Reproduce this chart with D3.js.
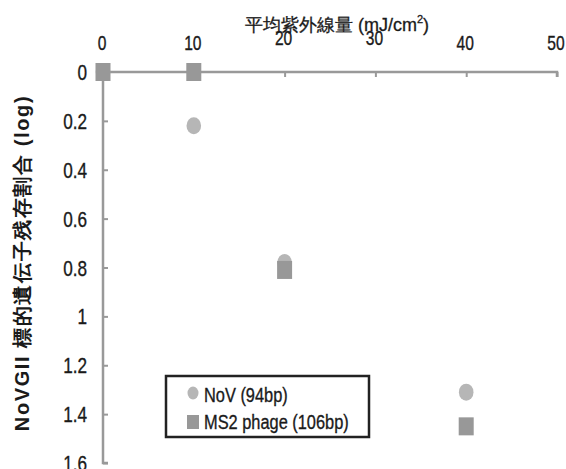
<!DOCTYPE html>
<html><head><meta charset="utf-8">
<script src="https://cdn.jsdelivr.net/npm/d3@7"></script>
<style>
body{margin:0;background:#fff;}
text{font-family:"Liberation Sans",Arial,sans-serif;fill:#1a1a1a;}
</style></head><body>
<svg id="c" width="566" height="469"></svg>
<script>
const xTicks = [0, 10, 20, 30, 40, 50];
const yTicks = [0, 0.2, 0.4, 0.6, 0.8, 1, 1.2, 1.4, 1.6];
const novDose = [0, 10, 20, 40];
const novVal = [0, 0.22, 0.78, 1.31];
const ms2Dose = [0, 10, 20, 40];
const ms2Val = [0, 0, 0.81, 1.45];
const seriesNames = ["NoV (94bp)", "MS2 phage (106bp)"];
const xTitle = "平均紫外線量 (mJ/cm";
const yTitle = "NoVGII 標的遺伝子残存割合 (log)";

const svg = d3.select("#c");
const x = d3.scaleLinear().domain([0, 50]).range([103, 557]);
const y = d3.scaleLinear().domain([0, 1.6]).range([72, 463]);
const axisCol = "#999";
const SX = 0.78;

function ctext(px, py, str, size, anchor) {
  return svg.append("g").attr("transform", `translate(${px},${py}) scale(${SX},1)`)
    .append("text").attr("text-anchor", anchor || "start").attr("font-size", size)
    .attr("stroke", "#1a1a1a").attr("stroke-width", 0.35).text(str);
}

// y axis
const gy = svg.append("g").attr("transform", `translate(${x(0)},0)`)
  .call(d3.axisRight(y).tickValues(yTicks).tickSize(5).tickFormat(""));
gy.select(".domain").attr("stroke", axisCol).attr("stroke-width", 2.5).attr("d", `M5,${y(0)}H0V${y(1.6)}H5`);
gy.selectAll(".tick line").attr("stroke", axisCol).attr("stroke-width", 2);
yTicks.forEach(d => ctext(87, y(d) + 8, d3.format("")(d), 22, "end"));

// x axis
const gx = svg.append("g").attr("transform", `translate(0,${y(0)})`)
  .call(d3.axisBottom(x).tickValues(xTicks).tickSize(5).tickFormat(""));
gx.select(".domain").attr("stroke", axisCol).attr("stroke-width", 2.5).attr("d", `M${x(0)},0H${x(50)}V5`);
gx.selectAll(".tick line").attr("stroke", axisCol).attr("stroke-width", 2);
xTicks.forEach(d => ctext(x(d) - 1, (d === 20 || d === 30) ? 45 : 50, String(d), 20, "middle"));

// titles
const t = svg.append("text").attr("x", 337).attr("y", 31).attr("text-anchor", "middle").attr("font-size", 18)
  .attr("stroke", "#1a1a1a").attr("stroke-width", 0.3);
t.append("tspan").text(xTitle);
t.append("tspan").attr("font-size", 11).attr("dy", -8).text("2");
t.append("tspan").attr("dy", 8).text(")");

svg.append("text").attr("transform", "translate(29,263) rotate(-90)")
  .attr("text-anchor", "middle").attr("font-size", 20).attr("font-weight", "bold")
  .attr("letter-spacing", 1.6)
  .attr("font-family", "'Noto Sans CJK JP',sans-serif").text(yTitle);

// NoV circles
svg.append("g").selectAll("ellipse").data(novDose).join("ellipse")
  .attr("cx", d => x(d)).attr("cy", (d, i) => y(novVal[i])).attr("rx", 7.3).attr("ry", 8.5)
  .attr("fill", "#b6b6b6");
// MS2 squares
svg.append("g").selectAll("rect").data(ms2Dose).join("rect")
  .attr("x", d => x(d) - 7.5).attr("y", (d, i) => y(ms2Val[i]) - 9).attr("width", 15).attr("height", 18)
  .attr("fill", "#989898");

// legend
svg.append("rect").attr("x", 166).attr("y", 376).attr("width", 203).attr("height", 61)
  .attr("fill", "none").attr("stroke", "#222").attr("stroke-width", 2.5);
svg.append("ellipse").attr("cx", 193).attr("cy", 393).attr("rx", 5.5).attr("ry", 6.5).attr("fill", "#b6b6b6");
svg.append("rect").attr("x", 187).attr("y", 415).attr("width", 12).attr("height", 14).attr("fill", "#989898");
ctext(204, 402, seriesNames[0], 21);
ctext(204, 429, seriesNames[1], 21);
</script></body></html>
